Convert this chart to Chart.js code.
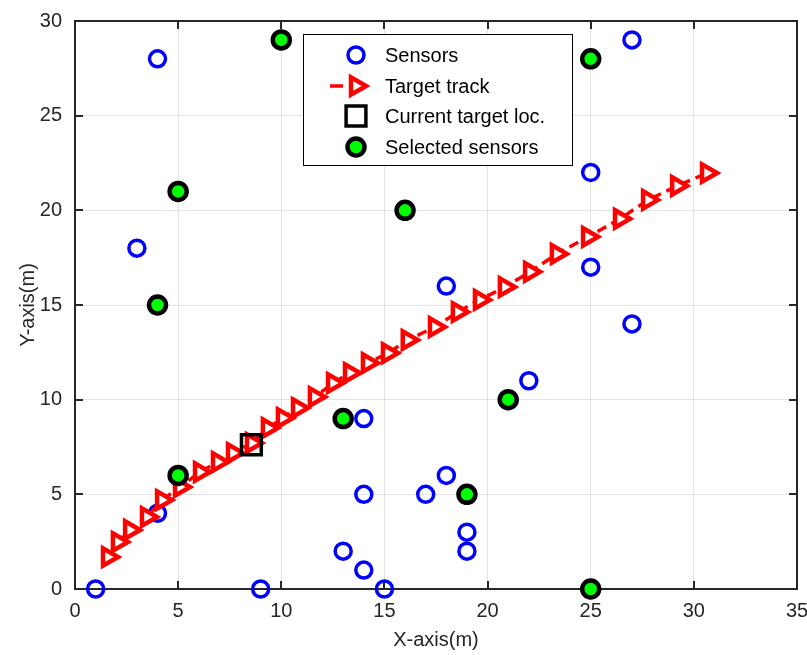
<!DOCTYPE html>
<html>
<head>
<meta charset="utf-8">
<title>Sensor selection</title>
<script src="https://cdn.jsdelivr.net/npm/chart.js@4.4.0/dist/chart.umd.min.js"></script>
<style>
  html, body { margin: 0; padding: 0; background: #fff; }
  #wrap { width: 807px; height: 655px; }
</style>
</head>
<body>
<div id="wrap"><canvas id="chart" width="807" height="655"></canvas></div>
<script>
// all sensors (the selected ones are drawn again on top)
const sensorX = [1, 9, 15, 14, 13, 19, 19, 4, 14, 17, 18, 14, 22, 18, 25, 27, 3, 25, 4, 27,
                 10, 25, 5, 16, 4, 13, 21, 5, 19, 25]
const sensorY = [0, 0, 0, 1, 2, 2, 3, 4, 5, 5, 6, 9, 11, 16, 17, 14, 18, 22, 28, 29,
                 29, 28, 21, 20, 15, 9, 10, 6, 5, 0]

const selectedX = [10, 25, 5, 16, 4, 13, 21, 5, 19, 25]
const selectedY = [29, 28, 21, 20, 15, 9, 10, 6, 5, 0]

// target track
const trackX = [1.6, 2.08, 2.67, 3.49, 4.22, 5.09, 6.06, 6.93, 7.66, 8.58,
                9.35, 10.08, 10.81, 11.63, 12.51, 13.33, 14.2, 15.17, 16.13, 17.45,
                18.56, 19.63, 20.84, 22.06, 23.36, 24.87, 26.42, 27.78, 29.19, 30.64]
const trackY = [1.69, 2.48, 3.12, 3.8, 4.7, 5.39, 6.18, 6.71, 7.18, 7.71,
                8.5, 9.03, 9.56, 10.14, 10.88, 11.41, 11.94, 12.46, 13.15, 13.84,
                14.63, 15.27, 15.95, 16.75, 17.7, 18.6, 19.55, 20.55, 21.29, 21.97]

const currentX = [8.55]
const currentY = [7.62]

const xTicks = [0, 5, 10, 15, 20, 25, 30, 35]
const yTicks = [0, 5, 10, 15, 20, 25, 30]

const legendLabels = ['Sensors', 'Target track', 'Current target loc.', 'Selected sensors']

const toPoints = (xs, ys) => xs.map((x, i) => ({ x: x, y: ys[i] }))

const AXIS = '#262626'
Chart.defaults.font.family = 'Arial, "Liberation Sans", Helvetica, sans-serif'
Chart.defaults.color = AXIS

// box with inward ticks on all four sides, like matlab
const boxPlugin = {
  id: 'box',
  beforeDatasetsDraw(chart) {
    const { ctx, chartArea: a, scales } = chart
    const tl = 8
    ctx.save()
    ctx.strokeStyle = AXIS
    ctx.lineWidth = 2
    ctx.beginPath()
    xTicks.forEach(v => {
      const px = Math.round(scales.x.getPixelForValue(v))
      ctx.moveTo(px, a.bottom); ctx.lineTo(px, a.bottom - tl)
      ctx.moveTo(px, a.top); ctx.lineTo(px, a.top + tl)
    })
    yTicks.forEach(v => {
      const py = Math.round(scales.y.getPixelForValue(v))
      ctx.moveTo(a.left, py); ctx.lineTo(a.left + tl, py)
      ctx.moveTo(a.right, py); ctx.lineTo(a.right - tl, py)
    })
    ctx.stroke()
    ctx.strokeRect(a.left, a.top, a.right - a.left, a.bottom - a.top)
    ctx.restore()
  }
}

// legend box inside the plot
const legendPlugin = {
  id: 'mlegend',
  afterDraw(chart) {
    const ctx = chart.ctx
    const draw = Chart.helpers.drawPoint
    const bx = 303, by = 34, bw = 269, bh = 131
    const iconX = 356, textX = 385
    const rows = [55, 86, 116, 147]
    ctx.save()
    ctx.fillStyle = '#fff'
    ctx.fillRect(bx, by, bw, bh)
    ctx.strokeStyle = '#000'
    ctx.lineWidth = 1
    ctx.strokeRect(bx + 0.5, by + 0.5, bw, bh)

    // sensors
    ctx.strokeStyle = '#0000ff'; ctx.fillStyle = '#fff'; ctx.lineWidth = 3.5
    draw(ctx, { pointStyle: 'circle', radius: 8, borderWidth: 3.5 }, iconX, rows[0])

    // target track
    ctx.strokeStyle = '#ff0000'; ctx.lineWidth = 3.5
    ctx.beginPath(); ctx.moveTo(330, rows[1]); ctx.lineTo(343, rows[1]); ctx.stroke()
    ctx.fillStyle = '#fff'; ctx.lineWidth = 4.5
    draw(ctx, { pointStyle: 'triangle', radius: 10, rotation: 90, borderWidth: 4.5 }, iconX, rows[1])

    // current target
    ctx.strokeStyle = '#000'; ctx.fillStyle = 'rgba(0,0,0,0)'; ctx.lineWidth = 3.5
    draw(ctx, { pointStyle: 'rect', radius: 14, borderWidth: 3.5 }, iconX, rows[2])

    // selected
    ctx.strokeStyle = '#000'; ctx.fillStyle = '#00ff00'; ctx.lineWidth = 4.5
    draw(ctx, { pointStyle: 'circle', radius: 8.5, borderWidth: 4.5 }, iconX, rows[3])

    ctx.fillStyle = '#000'
    ctx.font = '20px Arial, "Liberation Sans", sans-serif'
    ctx.textAlign = 'left'
    ctx.textBaseline = 'middle'
    legendLabels.forEach((t, i) => ctx.fillText(t, textX, rows[i] + 1))
    ctx.restore()
  }
}

new Chart(document.getElementById('chart'), {
  type: 'scatter',
  data: {
    datasets: [
      {
        label: legendLabels[0],
        data: toPoints(sensorX, sensorY),
        pointStyle: 'circle',
        pointRadius: 8,
        pointBorderWidth: 3.5,
        pointBorderColor: '#0000ff',
        pointBackgroundColor: 'rgba(255,255,255,0)',
        order: 4
      },
      {
        label: legendLabels[1],
        data: toPoints(trackX, trackY),
        showLine: true,
        borderColor: '#ff0000',
        borderWidth: 3.5,
        borderDash: [10, 6],
        pointStyle: 'triangle',
        rotation: 90,
        pointRadius: 10,
        pointBorderWidth: 4.5,
        pointBorderColor: '#ff0000',
        pointBackgroundColor: '#ffffff',
        order: 3
      },
      {
        label: legendLabels[2],
        data: toPoints(currentX, currentY),
        pointStyle: 'rect',
        pointRadius: 14,
        pointBorderWidth: 3.5,
        pointBorderColor: '#000',
        pointBackgroundColor: 'rgba(0,0,0,0)',
        order: 2
      },
      {
        label: legendLabels[3],
        data: toPoints(selectedX, selectedY),
        pointStyle: 'circle',
        pointRadius: 8.5,
        pointBorderWidth: 4.5,
        pointBorderColor: '#000',
        pointBackgroundColor: '#00ff00',
        order: 1
      }
    ]
  },
  options: {
    responsive: false,
    animation: false,
    clip: false,
    layout: { autoPadding: false, padding: { top: 21, right: 10, bottom: 0, left: 0 } },
    plugins: { legend: { display: false }, tooltip: { enabled: false } },
    scales: {
      x: {
        type: 'linear',
        min: 0,
        max: 35,
        afterBuildTicks: s => { s.ticks = xTicks.map(v => ({ value: v })) },
        ticks: { font: { size: 20 }, color: AXIS, padding: 10, maxRotation: 0 },
        grid: { color: '#e3e3e3', lineWidth: 1, drawTicks: false },
        border: { display: false },
        title: { display: true, text: 'X-axis(m)', font: { size: 20 }, color: AXIS, padding: { top: 0, bottom: 3 } },
        afterFit: s => { s.height = 66; s.paddingLeft = 0; s.paddingRight = 0 }
      },
      y: {
        type: 'linear',
        min: 0,
        max: 30,
        afterBuildTicks: s => { s.ticks = yTicks.map(v => ({ value: v })) },
        ticks: { font: { size: 20 }, color: AXIS, padding: 13 },
        grid: { color: '#e3e3e3', lineWidth: 1, drawTicks: false },
        border: { display: false },
        title: { display: true, text: 'Y-axis(m)', font: { size: 20 }, color: AXIS, padding: { top: 16, bottom: 0 } },
        afterFit: s => { s.width = 75; s.paddingTop = 0; s.paddingBottom = 0 }
      }
    }
  },
  plugins: [boxPlugin, legendPlugin]
})
</script>
</body>
</html>
